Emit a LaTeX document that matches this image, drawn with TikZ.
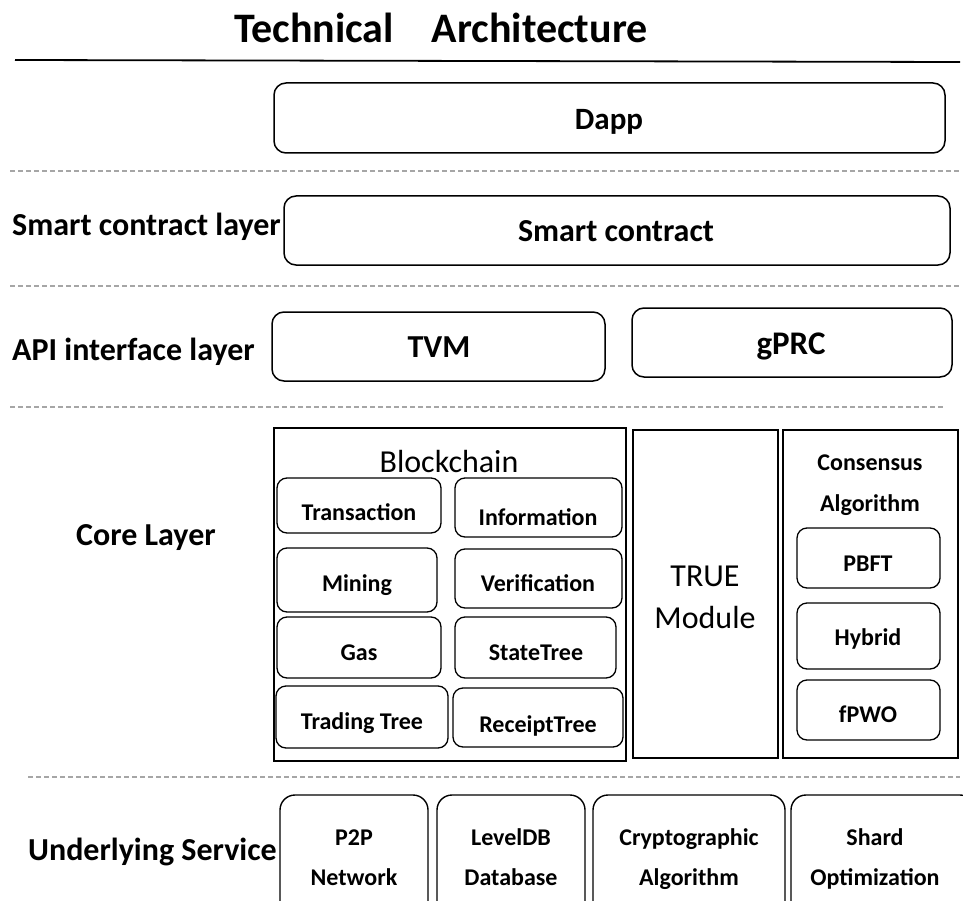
\documentclass[tikz,border=0pt]{standalone}
\usepackage{fontspec}
\setmainfont{Carlito}
\begin{document}
\begin{tikzpicture}[x=1pt,y=-1pt,
  rbox/.style={draw, line width=1.5pt, rounded corners=12pt, inner sep=0pt},
  ibox/.style={draw, line width=1.3pt, rounded corners=10pt, inner sep=0pt},
  ubox/.style={draw, line width=1.4pt, rounded corners=15pt, inner sep=0pt},
  sbox/.style={draw, line width=1.4pt, inner sep=0pt},
  big/.style={inner sep=0pt, anchor=base, font=\fontsize{32}{36}\selectfont\bfseries},
  mid/.style={inner sep=0pt, anchor=base, font=\fontsize{24}{28}\selectfont\bfseries},
  reg/.style={inner sep=0pt, anchor=base, font=\fontsize{32}{36}\selectfont},
  layerlbl/.style={inner sep=0pt, font=\fontsize{32}{36}\selectfont\bfseries},
  sep/.style={draw=gray!70, line width=1.3pt, dash pattern=on 5pt off 3pt},
]
\useasboundingbox (0,0) rectangle (963,901);
\newcommand{\bx}[6]{\node[#6, minimum width={#4-#2}, minimum height={#5-#3}] (#1) at ({(#2+#4)/2},{(#3+#5)/2}) {};}
\newcommand{\tl}[5]{\node[#4] (#1) at (#2,#3) {#5};}

% title
\node[inner sep=0pt, font=\fontsize{42}{44}\selectfont\bfseries] (title) at (441,28) {Technical\hspace{38pt}Architecture};
\coordinate (tl) at (15,60);
\coordinate (tr) at (960,62);
\draw[line width=1.8pt] (tl) -- (tr);

% separators
\coordinate (s1a) at (10,171); \coordinate (s1b) at (960,171);
\coordinate (s2a) at (10,286); \coordinate (s2b) at (960,286);
\coordinate (s3a) at (10,407); \coordinate (s3b) at (945,407);
\coordinate (s4a) at (28,777); \coordinate (s4b) at (960,777);
\draw[sep] (s1a) -- (s1b);
\draw[sep] (s2a) -- (s2b);
\draw[sep] (s3a) -- (s3b);
\draw[sep] (s4a) -- (s4b);

% Dapp
\bx{dapp}{274}{83}{945}{153}{rbox}
\tl{dappt}{609}{130}{big, font=\fontsize{31}{34}\selectfont\bfseries}{Dapp}

% Smart contract layer
\node[layerlbl, anchor=west] (lsc) at (12,227) {Smart contract layer};
\bx{sc}{284}{196}{950}{265}{rbox}
\tl{sct}{616}{242}{big}{Smart contract}

% API interface layer
\node[layerlbl, anchor=west] (lapi) at (12,352) {API interface layer};
\bx{tvm}{272}{312}{605}{381}{rbox}
\tl{tvmt}{439}{357}{big}{TVM}
\bx{grpc}{632}{308}{952}{377}{rbox}
\tl{grpct}{791}{354}{big, font=\fontsize{33}{36}\selectfont\bfseries}{gPRC}

% Core layer
\node[layerlbl] (lcore) at (146,538) {Core Layer};
\bx{bc}{274}{428}{626}{761}{sbox}
\node[inner sep=0pt, font=\fontsize{32}{34}\selectfont] (bct) at (449,462) {Blockchain};
\bx{tx}{277}{478}{441}{533}{ibox}
\tl{txt}{359}{520}{mid}{Transaction}
\bx{info}{455}{478}{622}{537}{ibox}
\tl{infot}{538}{525}{mid}{Information}
\bx{mining}{277}{548}{437}{612}{ibox}
\tl{miningt}{357}{591}{mid}{Mining}
\bx{verif}{455}{549}{622}{608}{ibox}
\tl{veriftt}{538}{591}{mid}{Verification}
\bx{gas}{277}{617}{441}{678}{ibox}
\tl{gast}{359}{660}{mid}{Gas}
\bx{state}{455}{617}{616}{678}{ibox}
\tl{statet}{536}{660}{mid}{StateTree}
\bx{trading}{276}{686}{448}{748}{ibox}
\tl{tradingt}{362}{729}{mid}{Trading Tree}
\bx{receipt}{453}{688}{623}{747}{ibox}
\tl{receiptt}{538}{732}{mid}{ReceiptTree}

\bx{true}{633}{430}{778}{758}{sbox}
\tl{true1}{705}{586}{reg}{TRUE}
\tl{true2}{705}{628}{reg}{Module}
\bx{cons}{783}{430}{958}{758}{sbox}
\tl{cons1}{870}{470}{mid}{Consensus}
\tl{cons2}{870}{511}{mid}{Algorithm}
\bx{pbft}{797}{528}{940}{588}{ibox}
\tl{pbftt}{868}{571}{mid}{PBFT}
\bx{hybrid}{797}{603}{940}{669}{ibox}
\tl{hybridt}{868}{645}{mid}{Hybrid}
\bx{fpwo}{797}{680}{940}{740}{ibox}
\tl{fpwot}{868}{722}{mid}{fPWO}

% Underlying service
\node[layerlbl, anchor=west] (lus) at (28,852) {Underlying Service};
\begin{scope}
\clip (0,0) rectangle (963,901);
\bx{p2p}{280}{795}{428}{919}{ubox}
\bx{level}{437}{795}{585}{919}{ubox}
\bx{crypto}{593}{795}{785}{919}{ubox}
\bx{shard}{791}{795}{975}{919}{ubox}
\end{scope}
\tl{p2p1}{354}{845}{mid}{P2P}
\tl{p2p2}{354}{885}{mid}{Network}
\tl{level1}{511}{845}{mid}{LevelDB}
\tl{level2}{511}{885}{mid}{Database}
\tl{crypto1}{689}{845}{mid}{Cryptographic}
\tl{crypto2}{689}{885}{mid}{Algorithm}
\tl{shard1}{875}{845}{mid}{Shard}
\tl{shard2}{875}{885}{mid}{Optimization}
\end{tikzpicture}
\end{document}
